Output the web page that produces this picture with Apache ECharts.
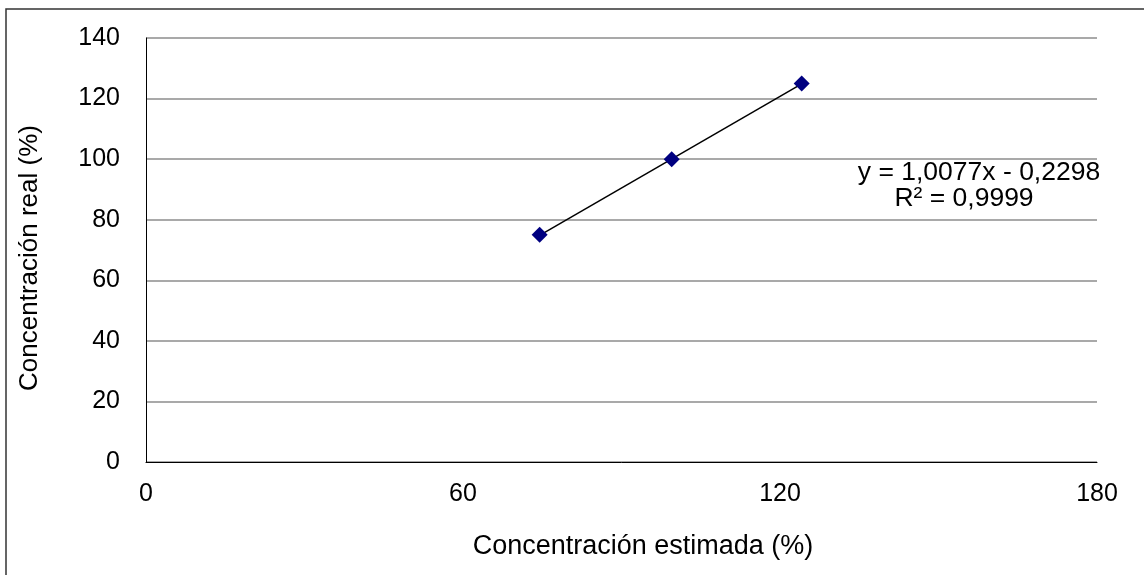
<!DOCTYPE html>
<html>
<head>
<meta charset="utf-8">
<script src="https://cdn.jsdelivr.net/npm/echarts@6/dist/echarts.min.js"></script>
<style>
  html, body { margin: 0; padding: 0; background: #fff; }
  #chart { width: 1144px; height: 575px; }
</style>
</head>
<body>
<div id="chart"></div>
<script>
// Measured samples: estimated vs. real concentration (%)
const estimada = [74.5, 99.5, 124.1];
const real = [75, 100, 125];

// Linear trendline coefficients
const pendiente = 1.0077;
const intercepto = -0.2298;
const r2 = 0.9999;

// Axis ticks
const xTicks = [0, 60, 120, 180];
const yTicks = [0, 20, 40, 60, 80, 100, 120, 140];

// Text
const tituloX = 'Concentración estimada (%)';
const tituloY = 'Concentración real (%)';

const FONT = '"Liberation Sans", Arial, sans-serif';
const fmt = (v, d) => v.toFixed(d).replace('.', ',');

const puntos = estimada.map((x, i) => [x, real[i]]);
const xMin = Math.min(...estimada), xMax = Math.max(...estimada);
const tendencia = [xMin, xMax].map(x => [x, pendiente * x + intercepto]);

const ecuacion = 'y = ' + fmt(pendiente, 4) + 'x ' + (intercepto < 0 ? '- ' : '+ ') + fmt(Math.abs(intercepto), 4);
const coefR2 = 'R² = ' + fmt(r2, 4);

const chart = echarts.init(document.getElementById('chart'), null, { renderer: 'canvas' });

chart.setOption({
  animation: false,
  backgroundColor: '#fff',
  textStyle: { fontFamily: FONT },
  grid: { left: 146, top: 38, right: 47, bottom: 113, containLabel: false },
  xAxis: {
    type: 'value',
    min: xTicks[0],
    max: xTicks[xTicks.length - 1],
    interval: xTicks[1] - xTicks[0],
    axisLine: { show: true, onZero: false, lineStyle: { color: '#000', width: 1 } },
    axisTick: { show: false },
    splitLine: { show: false },
    axisLabel: { fontSize: 25, color: '#000', margin: 20, fontFamily: FONT }
  },
  yAxis: {
    type: 'value',
    min: yTicks[0],
    max: yTicks[yTicks.length - 1],
    interval: yTicks[1] - yTicks[0],
    axisLine: { show: true, onZero: false, lineStyle: { color: '#000', width: 1 } },
    axisTick: { show: false },
    splitLine: { show: true, lineStyle: { color: '#8c8c8c', width: 1.5 } },
    axisLabel: { fontSize: 25, color: '#000', margin: 26, fontFamily: FONT }
  },
  series: [
    {
      name: 'Tendencia',
      type: 'line',
      data: tendencia,
      symbol: 'none',
      lineStyle: { color: '#000', width: 1.5 },
      z: 2,
      silent: true
    },
    {
      name: 'Concentración',
      type: 'scatter',
      data: puntos,
      symbol: 'diamond',
      symbolSize: [16, 16],
      itemStyle: { color: '#000080', opacity: 1 },
      z: 3
    }
  ],
  graphic: [
    // chart frame (top and left edges)
    {
      type: 'polyline',
      shape: { points: [[6, 575], [6, 9], [1144, 9]] },
      style: { fill: null, stroke: '#333', lineWidth: 1.5 },
      silent: true,
      z: -1
    },
    {
      type: 'text',
      x: 643,
      y: 547,
      style: {
        text: tituloX,
        textAlign: 'center',
        textVerticalAlign: 'middle',
        font: '27px ' + FONT,
        fill: '#000'
      }
    },
    {
      type: 'text',
      x: 30,
      y: 258,
      rotation: Math.PI / 2,
      style: {
        text: tituloY,
        textAlign: 'center',
        textVerticalAlign: 'middle',
        font: '26px ' + FONT,
        fill: '#000'
      }
    },
    {
      type: 'text',
      x: 979,
      y: 173,
      style: {
        text: ecuacion,
        textAlign: 'center',
        textVerticalAlign: 'middle',
        font: '26.5px ' + FONT,
        fill: '#000'
      },
      z: 10
    },
    {
      type: 'text',
      x: 964,
      y: 199,
      style: {
        text: coefR2,
        textAlign: 'center',
        textVerticalAlign: 'middle',
        font: '26.5px ' + FONT,
        fill: '#000'
      },
      z: 10
    }
  ]
});
</script>
</body>
</html>
